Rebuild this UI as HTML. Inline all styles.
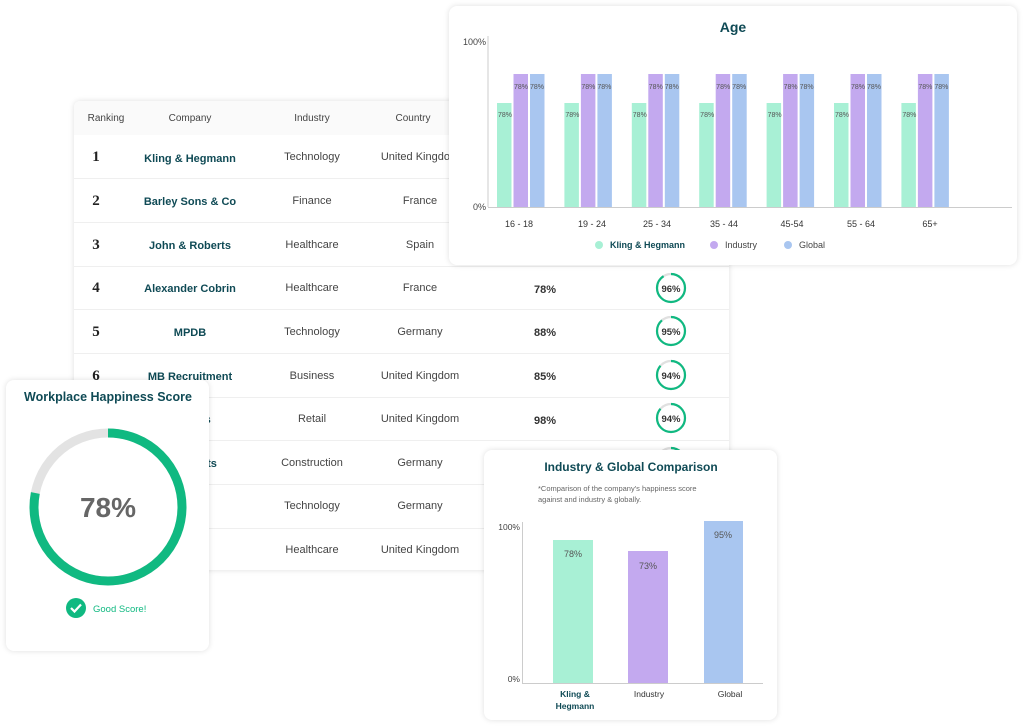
<!DOCTYPE html>
<html><head><meta charset="utf-8"><style>
*{box-sizing:border-box;margin:0;padding:0}
body{width:1024px;height:727px;background:#fff;position:relative;overflow:hidden;font-family:"Liberation Sans",sans-serif;color:#333}
.card{position:absolute;background:#fff;border-radius:8px;box-shadow:0 0 6px rgba(0,0,0,.13)}
.t{position:absolute;white-space:nowrap}
.c{transform:translateX(-50%)}
</style></head><body>

<div class="card" style="left:74px;top:101px;width:655px;height:469px;border-radius:6px;">
  <div style="position:absolute;left:0;top:0;width:100%;height:34px;background:#fafafa;border-radius:6px 6px 0 0"></div>
</div>
<div style="position:absolute;left:0;top:0;width:1024px;height:727px;font-size:11px">
  <div class="t c" style="left:106px;top:113px;color:#444;font-size:10px">Ranking</div>
  <div class="t c" style="left:190px;top:113px;color:#444;font-size:10px">Company</div>
  <div class="t c" style="left:312px;top:113px;color:#444;font-size:10px">Industry</div>
  <div class="t c" style="left:413px;top:113px;color:#444;font-size:10px">Country</div>
</div>
<svg width="1024" height="727" style="position:absolute;left:0;top:0" font-family="Liberation Sans, sans-serif">
  <g stroke="#efefef" stroke-width="1">
    <line x1="74" x2="729" y1="178.5" y2="178.5"/><line x1="74" x2="729" y1="222.5" y2="222.5"/>
    <line x1="74" x2="729" y1="266.5" y2="266.5"/><line x1="74" x2="729" y1="309.5" y2="309.5"/>
    <line x1="74" x2="729" y1="353.5" y2="353.5"/><line x1="74" x2="729" y1="397.5" y2="397.5"/>
    <line x1="74" x2="729" y1="440.5" y2="440.5"/><line x1="74" x2="729" y1="484.5" y2="484.5"/>
    <line x1="74" x2="729" y1="528.5" y2="528.5"/>
  </g>
  <g font-family="Liberation Serif, serif" font-weight="bold" font-size="15" fill="#222" text-anchor="middle">
    <text x="96" y="161">1</text><text x="96" y="205">2</text><text x="96" y="249">3</text>
    <text x="96" y="292">4</text><text x="96" y="336">5</text><text x="96" y="380">6</text>
  </g>
  <g font-weight="bold" font-size="11" fill="#0f4a55" text-anchor="middle">
    <text x="190" y="162">Kling &amp; Hegmann</text><text x="190" y="205">Barley Sons &amp; Co</text>
    <text x="190" y="249">John &amp; Roberts</text><text x="190" y="292">Alexander Cobrin</text>
    <text x="190" y="336">MPDB</text><text x="190" y="380">MB Recruitment</text>
    <text x="190" y="423">Roberts</text><text x="190" y="467">Architects</text>
    <text x="190" y="510">Health</text><text x="190" y="554">Health</text>
  </g>
  <g font-size="11" fill="#444" text-anchor="middle">
    <text x="312" y="160">Technology</text><text x="312" y="204">Finance</text><text x="312" y="248">Healthcare</text>
    <text x="312" y="291">Healthcare</text><text x="312" y="335">Technology</text><text x="312" y="379">Business</text>
    <text x="312" y="422">Retail</text><text x="312" y="466">Construction</text><text x="312" y="509">Technology</text>
    <text x="312" y="553">Healthcare</text>
    <text x="420" y="160">United Kingdom</text><text x="420" y="204">France</text><text x="420" y="248">Spain</text>
    <text x="420" y="291">France</text><text x="420" y="335">Germany</text><text x="420" y="379">United Kingdom</text>
    <text x="420" y="422">United Kingdom</text><text x="420" y="466">Germany</text><text x="420" y="509">Germany</text>
    <text x="420" y="553">United Kingdom</text>
  </g>
  <g font-weight="bold" font-size="11" fill="#333" text-anchor="middle">
    <text x="545" y="293">78%</text><text x="545" y="336">88%</text><text x="545" y="380">85%</text><text x="545" y="424">98%</text>
  </g>
  <g fill="none" stroke-width="2.2">
    <circle cx="671" cy="288" r="14" stroke="#e0e0e0"/><circle cx="671" cy="331" r="14" stroke="#e0e0e0"/>
    <circle cx="671" cy="375" r="14" stroke="#e0e0e0"/><circle cx="671" cy="418" r="14" stroke="#e0e0e0"/>
    <circle cx="671" cy="462" r="14" stroke="#e0e0e0"/>
    <g stroke="#10b981" transform="rotate(-90 671 288)"><circle cx="671" cy="288" r="14" stroke-dasharray="80 88"/></g>
    <g stroke="#10b981" transform="rotate(-90 671 331)"><circle cx="671" cy="331" r="14" stroke-dasharray="78 88"/></g>
    <g stroke="#10b981" transform="rotate(-90 671 375)"><circle cx="671" cy="375" r="14" stroke-dasharray="76 88"/></g>
    <g stroke="#10b981" transform="rotate(-90 671 418)"><circle cx="671" cy="418" r="14" stroke-dasharray="76 88"/></g>
    <g stroke="#10b981" transform="rotate(-90 671 462)"><circle cx="671" cy="462" r="14" stroke-dasharray="76 88"/></g>
  </g>
  <g font-weight="bold" font-size="9.5" fill="#333" text-anchor="middle">
    <text x="671" y="292">96%</text><text x="671" y="335">95%</text><text x="671" y="379">94%</text><text x="671" y="422">94%</text>
  </g>
</svg>

<div class="card" style="left:449px;top:6px;width:568px;height:259px"></div>
<svg width="1024" height="727" style="position:absolute;left:0;top:0" font-family="Liberation Sans, sans-serif">
  <text x="733" y="32" text-anchor="middle" font-weight="bold" font-size="14" fill="#0f4a55">Age</text>
  <text x="486" y="45" text-anchor="end" font-size="9" fill="#444">100%</text>
  <text x="486" y="210" text-anchor="end" font-size="9" fill="#444">0%</text>
  <line x1="488" y1="36" x2="488" y2="207" stroke="#ccc"/>
  <line x1="488" y1="207.5" x2="1012" y2="207.5" stroke="#ccc"/>
  <g font-size="7" fill="#555" text-anchor="middle">
    <g id="g0">
      <rect x="497" y="103" width="14.5" height="104" fill="#a8f0d5"/><rect x="513.5" y="74" width="14.5" height="133" fill="#c3a9ef"/><rect x="530" y="74" width="14.5" height="133" fill="#a9c6f0"/>
      <text x="505" y="117">78%</text><text x="521" y="89">78%</text><text x="537" y="89">78%</text>
    </g>
    <use href="#g0" transform="translate(67.4,0)"/>
    <use href="#g0" transform="translate(134.8,0)"/>
    <use href="#g0" transform="translate(202.2,0)"/>
    <use href="#g0" transform="translate(269.6,0)"/>
    <use href="#g0" transform="translate(337,0)"/>
    <use href="#g0" transform="translate(404.4,0)"/>
  </g>
  <g font-size="9" fill="#333" text-anchor="middle">
    <text x="519" y="227">16 - 18</text><text x="592" y="227">19 - 24</text><text x="657" y="227">25 - 34</text>
    <text x="724" y="227">35 - 44</text><text x="792" y="227">45-54</text><text x="861" y="227">55 - 64</text><text x="930" y="227">65+</text>
  </g>
  <circle cx="599" cy="245" r="4" fill="#a8f0d5"/><text x="610" y="248" font-size="9" font-weight="bold" fill="#0f4a55">Kling &amp; Hegmann</text>
  <circle cx="714" cy="245" r="4" fill="#c3a9ef"/><text x="725" y="248" font-size="9" fill="#444">Industry</text>
  <circle cx="788" cy="245" r="4" fill="#a9c6f0"/><text x="799" y="248" font-size="9" fill="#444">Global</text>
</svg>

<div class="card" style="left:484px;top:450px;width:293px;height:270px"></div>
<svg width="1024" height="727" style="position:absolute;left:0;top:0" font-family="Liberation Sans, sans-serif">
  <text x="631" y="471" text-anchor="middle" font-weight="bold" font-size="12" fill="#0f4a55">Industry &amp; Global Comparison</text>
  <text x="538" y="491" font-size="7.5" fill="#666">*Comparison of the company's happiness score</text>
  <text x="538" y="502" font-size="7.5" fill="#666">against and industry &amp; globally.</text>
  <text x="520" y="530" text-anchor="end" font-size="8.5" fill="#444">100%</text>
  <text x="520" y="682" text-anchor="end" font-size="8.5" fill="#444">0%</text>
  <line x1="522.5" y1="522" x2="522.5" y2="683" stroke="#ccc"/>
  <line x1="522" y1="683.5" x2="763" y2="683.5" stroke="#ccc"/>
  <rect x="553" y="540" width="40" height="143" fill="#a8f0d5"/>
  <rect x="628" y="551" width="40" height="132" fill="#c3a9ef"/>
  <rect x="704" y="521" width="39" height="162" fill="#a9c6f0"/>
  <g font-size="9" fill="#555" text-anchor="middle">
    <text x="573" y="557">78%</text><text x="648" y="569">73%</text><text x="723" y="538">95%</text>
  </g>
  <text x="575" y="697" text-anchor="middle" font-size="8.5" font-weight="bold" fill="#0f4a55">Kling &amp;</text>
  <text x="575" y="709" text-anchor="middle" font-size="8.5" font-weight="bold" fill="#0f4a55">Hegmann</text>
  <text x="649" y="697" text-anchor="middle" font-size="8.5" fill="#333">Industry</text>
  <text x="730" y="697" text-anchor="middle" font-size="8.5" fill="#333">Global</text>
</svg>

<div class="card" style="left:6px;top:380px;width:203px;height:271px"></div>
<svg width="1024" height="727" style="position:absolute;left:0;top:0" font-family="Liberation Sans, sans-serif">
  <text x="108" y="401" text-anchor="middle" font-weight="bold" font-size="12.5" fill="#0f4a55">Workplace Happiness Score</text>
  <circle cx="108" cy="507" r="74" fill="none" stroke="#e3e3e3" stroke-width="9"/>
  <circle cx="108" cy="507" r="74" fill="none" stroke="#10b981" stroke-width="9" stroke-dasharray="362.7 465" transform="rotate(-90 108 507)"/>
  <text x="108" y="517" text-anchor="middle" font-weight="bold" font-size="28" fill="#666">78%</text>
  <circle cx="76" cy="608" r="10" fill="#10b981"/>
  <path d="M71 608 l3.5 3.5 l6.5 -7" fill="none" stroke="#fff" stroke-width="2.2"/>
  <text x="93" y="612" font-size="9.5" fill="#10b981">Good Score!</text>
</svg>
</body></html>
